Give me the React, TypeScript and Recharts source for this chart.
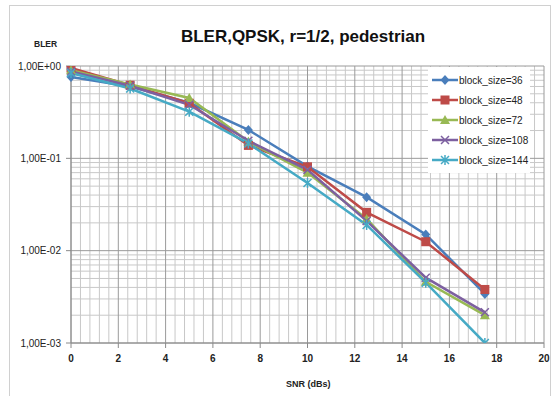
import { LineChart, Line, XAxis, YAxis, CartesianGrid } from "recharts";

const snr = [0, 2.5, 5, 7.5, 10, 12.5, 15, 17.5];
const bler36 = [0.76, 0.6, 0.4, 0.203, 0.082, 0.038, 0.015, 0.0034];
const bler48 = [0.95, 0.62, 0.395, 0.138, 0.081, 0.026, 0.0125, 0.0038];
const bler72 = [0.9, 0.63, 0.45, 0.152, 0.07, 0.022, 0.0046, 0.002];
const bler108 = [0.87, 0.61, 0.38, 0.155, 0.075, 0.021, 0.0051, 0.00215];
const bler144 = [0.84, 0.57, 0.32, 0.145, 0.054, 0.019, 0.0045, 0.001];

const xTicks = [0, 2, 4, 6, 8, 10, 12, 14, 16, 18, 20];
const yTicks = [0.001, 0.01, 0.1, 1];

// minor grid: every 0.4 dB, and 2..9 inside each decade
const xMinor: number[] = [];
for (let i = 1; i < 50; i++) if (i % 5 !== 0) xMinor.push(+(i * 0.4).toFixed(1));
const yMinor: number[] = [];
for (const d of [0.001, 0.01, 0.1]) for (let m = 2; m <= 9; m++) yMinor.push(+(d * m).toPrecision(3));

const data = snr.map((s, i) => ({
  snr: s,
  b36: bler36[i],
  b48: bler48[i],
  b72: bler72[i],
  b108: bler108[i],
  b144: bler144[i],
}));

type Shape = "diamond" | "square" | "triangle" | "cross" | "star";

const series: { key: string; name: string; color: string; shape: Shape }[] = [
  { key: "b36", name: "block_size=36", color: "#4A7EBB", shape: "diamond" },
  { key: "b48", name: "block_size=48", color: "#BE4B48", shape: "square" },
  { key: "b72", name: "block_size=72", color: "#98B954", shape: "triangle" },
  { key: "b108", name: "block_size=108", color: "#7D60A0", shape: "cross" },
  { key: "b144", name: "block_size=144", color: "#46AAC5", shape: "star" },
];

function Marker({ cx, cy, color, shape }: { cx: number; cy: number; color: string; shape: Shape }) {
  if (cx == null || cy == null || isNaN(cx) || isNaN(cy)) return null;
  if (shape === "diamond")
    return <path d={`M${cx},${cy - 5}L${cx + 4.5},${cy}L${cx},${cy + 5}L${cx - 4.5},${cy}Z`} fill={color} />;
  if (shape === "square") return <rect x={cx - 4.5} y={cy - 4.5} width={9} height={9} fill={color} />;
  if (shape === "triangle")
    return <path d={`M${cx},${cy - 5}L${cx + 5},${cy + 4}L${cx - 5},${cy + 4}Z`} fill={color} />;
  if (shape === "cross")
    return (
      <path d={`M${cx - 4},${cy - 4}L${cx + 4},${cy + 4}M${cx + 4},${cy - 4}L${cx - 4},${cy + 4}`} stroke={color} strokeWidth={1.5} />
    );
  return (
    <path
      d={`M${cx - 4},${cy - 4}L${cx + 4},${cy + 4}M${cx + 4},${cy - 4}L${cx - 4},${cy + 4}M${cx},${cy - 5}L${cx},${cy + 5}`}
      stroke={color}
      strokeWidth={1.5}
    />
  );
}

const fmtE = (v: number) => {
  const e = Math.round(Math.log10(v));
  const sign = e < 0 ? "-" : "+";
  return `1,00E${sign}${String(Math.abs(e)).padStart(2, "0")}`;
};

function LegendBox() {
  return (
    <div
      style={{
        position: "absolute",
        left: 428,
        top: 67,
        background: "#fff",
        width: 102,
        padding: "3px 0",
        fontFamily: "Liberation Sans, Arial, sans-serif",
        fontSize: 10,
      }}
    >
      {series.map((s) => (
        <div key={s.key} style={{ display: "flex", alignItems: "center", height: 20 }}>
          <svg width={28} height={12} style={{ marginLeft: 3 }}>
            <line x1={1} y1={6} x2={27} y2={6} stroke={s.color} strokeWidth={2.5} />
            <Marker cx={14} cy={6} color={s.color} shape={s.shape} />
          </svg>
          <span style={{ color: "#222" }}>{s.name}</span>
        </div>
      ))}
    </div>
  );
}

export default function App() {
  const tickStyle = { fill: "#222", fontSize: 10, fontFamily: "Liberation Sans, Arial, sans-serif" };
  return (
    <div style={{ position: "absolute", left: 0, top: 0, width: 552, height: 396, background: "#fff" }}>
      <svg width={552} height={396} style={{ position: "absolute", left: 0, top: 0 }}>
        <rect x={9.5} y={5.5} width={541} height={400} fill="none" stroke="#d0d0d0" />
        <text x={303} y={42} textAnchor="middle" fontFamily="Liberation Sans, Arial, sans-serif" fontWeight="bold" fontSize={17} fill="#111">
          BLER,QPSK, r=1/2, pedestrian
        </text>
        <text x={34} y={47} fontFamily="Liberation Sans, Arial, sans-serif" fontWeight="bold" fontSize={8.5} fill="#222">
          BLER
        </text>
        <text x={286} y={387} fontFamily="Liberation Sans, Arial, sans-serif" fontWeight="bold" fontSize={9} fill="#222">
          SNR (dBs)
        </text>
      </svg>
      <div style={{ position: "absolute", left: 0, top: 0 }}>
        <LineChart width={552} height={396} data={data} margin={{ top: 66, right: 8, left: 0, bottom: 0 }}>
          <CartesianGrid stroke="#c8c8c8" strokeWidth={1} verticalValues={xMinor} horizontalValues={yMinor} />
          <CartesianGrid stroke="#9a9a9a" strokeWidth={1} verticalValues={xTicks} horizontalValues={yTicks} />
          <XAxis
            dataKey="snr"
            type="number"
            domain={[0, 20]}
            ticks={xTicks}
            interval={0}
            height={53}
            tickSize={5}
            tickMargin={7}
            stroke="#8a8a8a"
            tick={{ ...tickStyle, fontWeight: "bold" }}
          />
          <YAxis
            scale="log"
            domain={[0.001, 1]}
            ticks={yTicks}
            interval={0}
            width={71}
            tickSize={5}
            tickMargin={5}
            stroke="#8a8a8a"
            tickFormatter={fmtE}
            tick={tickStyle}
            allowDataOverflow
          />
          {series.map((s) => (
            <Line
              key={s.key}
              dataKey={s.key}
              name={s.name}
              stroke={s.color}
              strokeWidth={2.5}
              isAnimationActive={false}
              dot={(p: any) => <Marker key={`${s.key}-${p.index}`} cx={p.cx} cy={p.cy} color={s.color} shape={s.shape} />}
              activeDot={false}
            />
          ))}
        </LineChart>
      </div>
      <LegendBox />
    </div>
  );
}
